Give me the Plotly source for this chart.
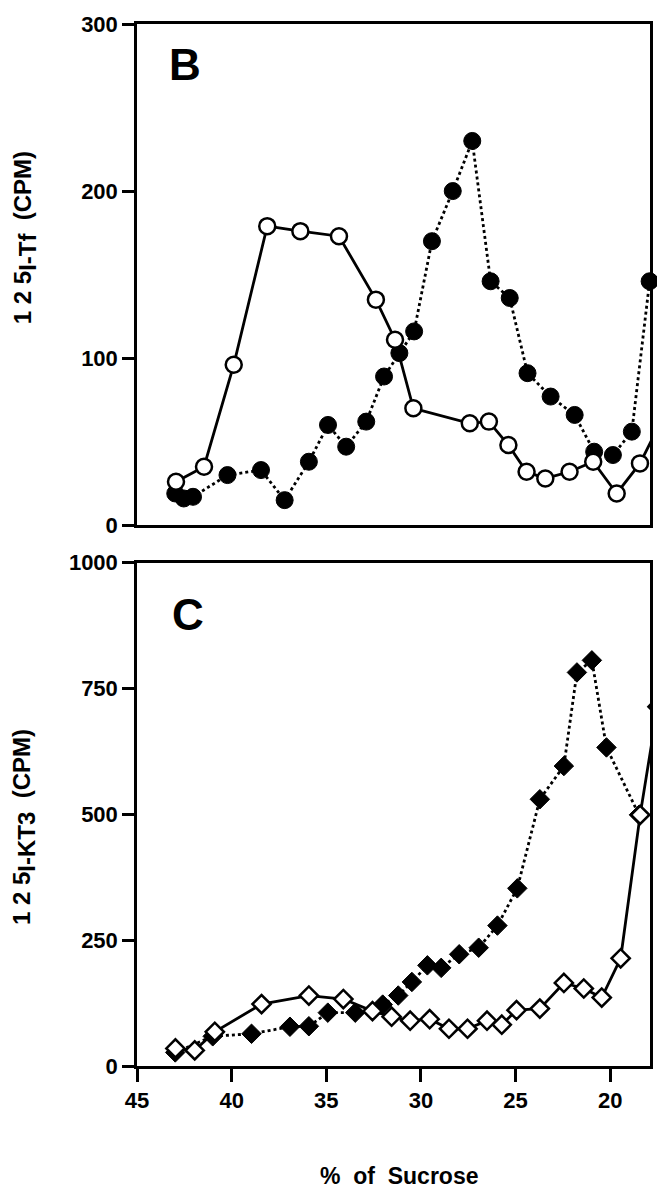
import plotly.graph_objects as go

# Panel B: 125I-Tf (CPM)
b_open_x = [42.94, 41.46, 39.89, 38.12, 36.37, 34.33, 32.38, 31.37, 30.40, 27.42, 26.41, 25.38,
            24.42, 23.43, 22.15, 20.90, 19.66, 18.43, 17.5]
b_open_y = [26, 35, 96, 179, 176, 173, 135, 111, 70, 61, 62, 48,
            32, 28, 32, 38, 19, 37, 58]
b_fill_x = [42.98, 42.53, 42.04, 40.22, 38.45, 37.20, 35.92, 34.91, 33.95, 32.89, 31.95, 31.14,
            30.36, 29.42, 28.32, 27.29, 26.32, 25.31, 24.37, 23.15, 21.88, 20.85, 19.86, 18.86, 17.92]
b_fill_y = [19, 16, 17, 30, 33, 15, 38, 60, 47, 62, 89, 103,
            116, 170, 200, 230, 146, 136, 91, 77, 66, 44, 42, 56, 146]

# Panel C: 125I-KT3 (CPM)
c_open_x = [42.97, 41.95, 40.89, 38.42, 35.92, 34.10, 32.56, 31.55, 30.57, 29.54, 28.52, 27.54,
            26.51, 25.73, 24.95, 23.72, 22.45, 21.40, 20.45, 19.45, 18.42, 17.5]
c_open_y = [35, 31, 68, 123, 140, 133, 109, 98, 90, 93, 74, 74,
            90, 82, 111, 114, 165, 154, 136, 214, 499, 714]
c_fill_x = [42.98, 41.00, 38.95, 36.92, 35.92, 34.92, 33.47, 32.02, 31.20, 30.48, 29.66, 28.93,
            27.98, 26.95, 25.96, 24.91, 23.72, 22.45, 21.76, 20.97, 20.20, 18.48]
c_fill_y = [27, 59, 64, 78, 79, 106, 106, 122, 140, 167, 200, 195,
            222, 235, 279, 353, 530, 596, 782, 806, 633, 499]

x_ticks = [45, 40, 35, 30, 25, 20]
b_ticks = [0, 100, 200, 300]
c_ticks = [0, 250, 500, 750, 1000]

FONT = "Liberation Sans, Arial, sans-serif"
BLACK = "#000000"

fig = go.Figure()

fig.add_trace(go.Scatter(x=b_fill_x, y=b_fill_y, mode="lines+markers", xaxis="x", yaxis="y",
                         line=dict(color=BLACK, width=2.8, dash="dot"),
                         marker=dict(symbol="circle", size=17, color=BLACK,
                                     line=dict(color=BLACK, width=1)),
                         cliponaxis=False, showlegend=False))
fig.add_trace(go.Scatter(x=b_open_x, y=b_open_y, mode="lines+markers", xaxis="x", yaxis="y",
                         line=dict(color=BLACK, width=2.8),
                         marker=dict(symbol="circle", size=16, color="white",
                                     line=dict(color=BLACK, width=2.5)),
                         showlegend=False))
fig.add_trace(go.Scatter(x=c_fill_x, y=c_fill_y, mode="lines+markers", xaxis="x2", yaxis="y2",
                         line=dict(color=BLACK, width=2.8, dash="dot"),
                         marker=dict(symbol="diamond", size=15, color=BLACK,
                                     line=dict(color=BLACK, width=1)),
                         showlegend=False))
fig.add_trace(go.Scatter(x=c_open_x, y=c_open_y, mode="lines+markers", xaxis="x2", yaxis="y2",
                         line=dict(color=BLACK, width=2.8),
                         marker=dict(symbol="diamond", size=14, color="white",
                                     line=dict(color=BLACK, width=2.5)),
                         showlegend=False))

axis_common = dict(showline=True, linecolor=BLACK, linewidth=2.5, mirror=True,
                   showgrid=False, zeroline=False,
                   tickfont=dict(family=FONT, size=22, color=BLACK, weight="bold"))

TFONT = dict(family=FONT, size=24, color=BLACK)


def ylabel(sub):
    return ("<b>1 2 5<sub><span style='font-size:24px'>" + sub +
            "</span></sub>  (CPM)</b>")


fig.update_layout(
    width=649, height=1183,
    margin=dict(l=129, r=5, t=4, b=125),
    paper_bgcolor="white", plot_bgcolor="white",
    xaxis=dict(domain=[0, 1], range=[45, 17.9], anchor="y", showticklabels=False,
               ticks="", **axis_common),
    yaxis=dict(domain=[0.519, 1], range=[0, 300], anchor="x", tickvals=b_ticks,
               ticks="outside", ticklen=12, tickwidth=2.5, tickcolor=BLACK, **axis_common),
    xaxis2=dict(domain=[0, 1], range=[45, 17.9], anchor="y2", tickvals=x_ticks,
                ticks="outside", ticklen=13, tickwidth=2.5, tickcolor=BLACK, **axis_common),
    yaxis2=dict(domain=[0, 0.483], range=[0, 1000], anchor="x2", tickvals=c_ticks,
                ticks="outside", ticklen=12, tickwidth=2.5, tickcolor=BLACK, **axis_common),
    annotations=[
        dict(text="<b>B</b>", x=0.093, y=0.961, xref="paper", yref="paper", showarrow=False,
             xanchor="center", yanchor="middle",
             font=dict(family=FONT, size=44, color=BLACK)),
        dict(text="<b>C</b>", x=0.099, y=0.433, xref="paper", yref="paper", showarrow=False,
             xanchor="center", yanchor="middle",
             font=dict(family=FONT, size=44, color=BLACK)),
        dict(text=ylabel("I-Tf"), x=-0.219, y=0.795, xref="paper",
             yref="paper", showarrow=False, textangle=-90, xanchor="center", yanchor="middle",
             font=TFONT),
        dict(text=ylabel("I-KT3"), x=-0.219, y=0.229, xref="paper",
             yref="paper", showarrow=False, textangle=-90, xanchor="center", yanchor="middle",
             font=TFONT),
        dict(text="<b>%  of  Sucrose</b>", x=0.511, y=-0.106, xref="paper", yref="paper",
             showarrow=False, xanchor="center", yanchor="middle",
             font=dict(family=FONT, size=23, color=BLACK)),
    ],
)

fig.write_html("out.html")
